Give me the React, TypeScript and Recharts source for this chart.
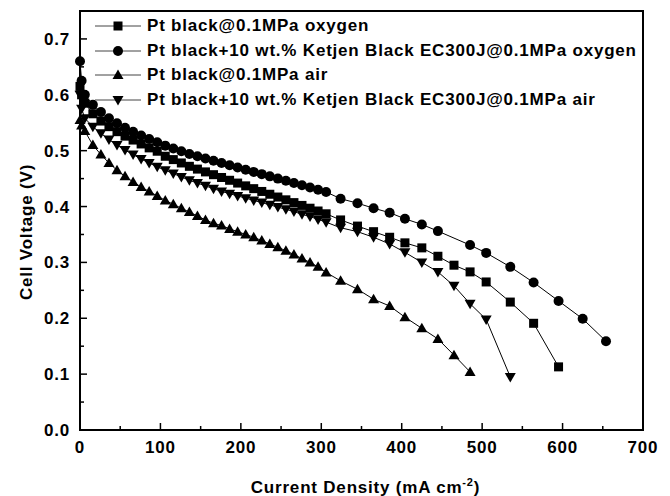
import { LineChart, Line, XAxis, YAxis, ReferenceArea } from 'recharts';

// current density (mA cm-2) and cell voltage (V)
const ptO2X = [0, 2, 6, 16, 26, 36, 46, 56, 66, 76, 86, 96, 106, 116, 126, 136, 146, 156, 166, 176, 186, 196, 206, 216, 226, 236, 246, 256, 266, 276, 286, 296, 306, 324, 345, 365, 385, 404, 425, 445, 465, 485, 505, 535, 564, 595];
const ptO2Y = [0.615, 0.6, 0.585, 0.566, 0.553, 0.543, 0.534, 0.526, 0.519, 0.512, 0.505, 0.499, 0.49, 0.484, 0.478, 0.472, 0.467, 0.462, 0.457, 0.452, 0.447, 0.442, 0.437, 0.432, 0.427, 0.422, 0.417, 0.412, 0.407, 0.402, 0.397, 0.392, 0.387, 0.376, 0.365, 0.355, 0.345, 0.335, 0.326, 0.311, 0.295, 0.283, 0.265, 0.229, 0.191, 0.113];

const kbO2X = [0, 2, 6, 16, 26, 36, 46, 56, 66, 76, 86, 96, 106, 116, 126, 136, 146, 156, 166, 176, 186, 196, 206, 216, 226, 236, 246, 256, 266, 276, 286, 296, 306, 324, 345, 365, 385, 404, 425, 445, 485, 505, 535, 564, 595, 625, 654];
const kbO2Y = [0.66, 0.625, 0.6, 0.582, 0.569, 0.558, 0.549, 0.541, 0.534, 0.527, 0.521, 0.515, 0.509, 0.504, 0.499, 0.494, 0.49, 0.486, 0.482, 0.478, 0.474, 0.47, 0.466, 0.462, 0.458, 0.454, 0.45, 0.446, 0.442, 0.438, 0.434, 0.43, 0.426, 0.414, 0.406, 0.397, 0.389, 0.378, 0.368, 0.356, 0.331, 0.317, 0.292, 0.264, 0.231, 0.199, 0.159];

const ptAirX = [0, 2, 6, 16, 26, 36, 46, 56, 66, 76, 86, 96, 106, 116, 126, 136, 146, 156, 166, 176, 186, 196, 206, 216, 226, 236, 246, 256, 266, 276, 286, 296, 306, 324, 345, 365, 385, 404, 425, 445, 465, 485];
const ptAirY = [0.555, 0.545, 0.535, 0.51, 0.493, 0.478, 0.465, 0.454, 0.444, 0.435, 0.427, 0.419, 0.411, 0.404, 0.397, 0.39, 0.383, 0.376, 0.37, 0.366, 0.36, 0.355, 0.35, 0.345, 0.339, 0.333, 0.327, 0.321, 0.314, 0.307, 0.3, 0.292, 0.282, 0.267, 0.252, 0.234, 0.222, 0.202, 0.182, 0.163, 0.134, 0.104];

const kbAirX = [0, 2, 6, 16, 26, 36, 46, 56, 66, 76, 86, 96, 106, 116, 126, 136, 146, 156, 166, 176, 186, 196, 206, 216, 226, 236, 246, 256, 266, 276, 286, 296, 306, 324, 345, 365, 385, 404, 425, 445, 465, 485, 505, 535];
const kbAirY = [0.6, 0.575, 0.558, 0.543, 0.531, 0.52, 0.51, 0.501, 0.493, 0.485, 0.478, 0.471, 0.465, 0.459, 0.453, 0.447, 0.442, 0.437, 0.432, 0.427, 0.423, 0.419, 0.415, 0.411, 0.407, 0.403, 0.399, 0.395, 0.391, 0.386, 0.382, 0.377, 0.372, 0.362, 0.355, 0.345, 0.333, 0.318, 0.3, 0.283, 0.258, 0.226, 0.198, 0.095];

const xTicks = [0, 50, 100, 150, 200, 250, 300, 350, 400, 450, 500, 550, 600, 650, 700];
const yTicks = [0, 0.05, 0.1, 0.15, 0.2, 0.25, 0.3, 0.35, 0.4, 0.45, 0.5, 0.55, 0.6, 0.65, 0.7];

const seriesNames = [
  'Pt black@0.1MPa oxygen',
  'Pt black+10 wt.% Ketjen Black EC300J@0.1MPa oxygen',
  'Pt black@0.1MPa air',
  'Pt black+10 wt.% Ketjen Black EC300J@0.1MPa air',
];

const FONT = '"Liberation Sans", Arial, Helvetica, sans-serif';
const FS = 17;
const LS = 0.8;
const X_GAP = 11;
const Y_GAP = 10;

const toPoints = (xs: number[], ys: number[]) => xs.map((x, i) => ({ x, y: ys[i] }));

type Shape = 'square' | 'circle' | 'up' | 'down';

function Marker({ shape, cx, cy }: { shape: Shape; cx: number; cy: number }) {
  if (shape === 'square') return <rect x={cx - 4.5} y={cy - 4.5} width={9} height={9} fill="#000" />;
  if (shape === 'circle') return <circle cx={cx} cy={cy} r={5} fill="#000" />;
  if (shape === 'up')
    return <polygon points={`${cx},${cy - 5.5} ${cx - 5.5},${cy + 4} ${cx + 5.5},${cy + 4}`} fill="#000" />;
  return <polygon points={`${cx - 5.5},${cy - 4} ${cx + 5.5},${cy - 4} ${cx},${cy + 5.5}`} fill="#000" />;
}

const dotFor = (shape: Shape) => (props: any) => {
  const { cx, cy, index } = props;
  if (cx == null || cy == null) return <g key={index} />;
  return (
    <g key={index}>
      <Marker shape={shape} cx={cx} cy={cy} />
    </g>
  );
};

function XTick(props: any) {
  const { x, y, payload } = props;
  const axisY = y - X_GAP;
  const major = payload.value % 100 === 0;
  return (
    <g>
      <line x1={x} x2={x} y1={axisY} y2={axisY - (major ? 7 : 4)} stroke="#000" strokeWidth={1.5} />
      {major && (
        <text x={x} y={y} dy="0.71em" textAnchor="middle" fontFamily={FONT} fontWeight="bold" fontSize={FS} letterSpacing={LS} fill="#000">
          {payload.value}
        </text>
      )}
    </g>
  );
}

function YTick(props: any) {
  const { x, y, payload } = props;
  const axisX = x + Y_GAP;
  const major = Math.round(payload.value * 100) % 10 === 0;
  return (
    <g>
      <line x1={axisX} x2={axisX + (major ? 7 : 4)} y1={y} y2={y} stroke="#000" strokeWidth={1.5} />
      {major && (
        <text x={x} y={y} dy="0.355em" textAnchor="end" fontFamily={FONT} fontWeight="bold" fontSize={FS} letterSpacing={LS} fill="#000">
          {payload.value.toFixed(1)}
        </text>
      )}
    </g>
  );
}

const xTitle = (props: any) => {
  const vb = props.viewBox;
  return (
    <text x={vb.x + vb.width / 2 + 4} y={vb.y + 63} textAnchor="middle" fontFamily={FONT} fontWeight="bold" fontSize={FS} letterSpacing={LS} fill="#000">
      Current Density (mA cm
      <tspan dy={-7} fontSize={11}>-2</tspan>
      <tspan dy={7}>)</tspan>
    </text>
  );
};

const yTitle = () => (
  <text
    x={26}
    y={232}
    transform="rotate(-90 26 232)"
    textAnchor="middle"
    dominantBaseline="central"
    fontFamily={FONT}
    fontWeight="bold"
    fontSize={FS}
    letterSpacing={LS}
    fill="#000"
  >
    Cell Voltage (V)
  </text>
);

const shapes: Shape[] = ['square', 'circle', 'up', 'down'];

export default function App() {
  const series = [
    toPoints(ptO2X, ptO2Y),
    toPoints(kbO2X, kbO2Y),
    toPoints(ptAirX, ptAirY),
    toPoints(kbAirX, kbAirY),
  ];

  return (
    <div style={{ position: 'absolute', left: 0, top: 0, width: 670, height: 496, background: '#fff' }}>
      <LineChart width={670} height={496} margin={{ top: 11, right: 27, left: 0, bottom: 0 }}>
        <XAxis
          type="number"
          dataKey="x"
          domain={[0, 700]}
          ticks={xTicks}
          interval={0}
          height={66}
          axisLine={false}
          tickLine={false}
          tickSize={0}
          tickMargin={X_GAP}
          tick={<XTick />}
          label={xTitle}
        />
        <YAxis
          type="number"
          dataKey="y"
          domain={[0, 0.75]}
          ticks={yTicks}
          interval={0}
          width={80}
          axisLine={false}
          tickLine={false}
          tickSize={0}
          tickMargin={Y_GAP}
          tick={<YTick />}
          label={yTitle}
        />
        <ReferenceArea x1={0} x2={700} y1={0} y2={0.75} fill="none" stroke="#000" strokeWidth={2} fillOpacity={0} />
        {series.map((d, i) => (
          <Line
            key={seriesNames[i]}
            data={d}
            dataKey="y"
            type="linear"
            stroke="#000"
            strokeWidth={1}
            dot={dotFor(shapes[i])}
            activeDot={false}
            isAnimationActive={false}
          />
        ))}
      </LineChart>
      <div
        style={{
          position: 'absolute',
          left: 95,
          top: 14,
          fontFamily: FONT,
          fontWeight: 'bold',
          fontSize: FS,
          letterSpacing: LS,
          color: '#000',
        }}
      >
        {seriesNames.map((name, i) => (
          <div key={name} style={{ display: 'flex', alignItems: 'center', height: 24.5, whiteSpace: 'nowrap' }}>
            <svg width={46} height={14} style={{ flex: 'none' }}>
              <line x1={0} x2={46} y1={7} y2={7} stroke="#444" strokeWidth={1} />
              <Marker shape={shapes[i]} cx={23} cy={7} />
            </svg>
            <span style={{ marginLeft: 6 }}>{name}</span>
          </div>
        ))}
      </div>
    </div>
  );
}
